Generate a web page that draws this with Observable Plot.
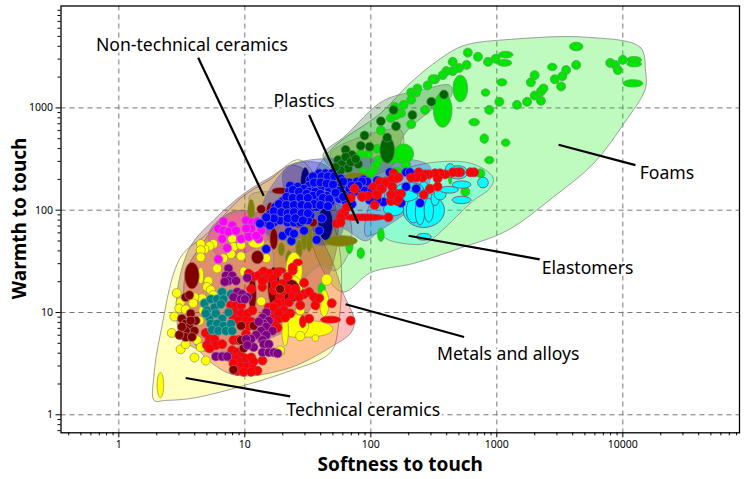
<!DOCTYPE html>
<html><head><meta charset="utf-8">
<style>html,body{margin:0;padding:0;background:#fff}svg{display:block}</style>
<script src="https://cdn.jsdelivr.net/npm/d3@7"></script>
<script src="https://cdn.jsdelivr.net/npm/@observablehq/plot@0.6"></script>
</head><body><div id="chart"></div>
<script>
// All values are log10(softness), log10(warmth).
const majorTicks=[1,10,100,1000,10000];
const minorX=[.4,.5,.6,.7,.8,.9,2,3,4,5,6,7,8,9,20,30,40,50,60,70,80,90,200,300,400,500,600,700,800,900,2000,3000,4000,5000,6000,7000,8000,9000,20000,30000,40000,50000,60000,70000,80000];
const majorY=[1,10,100,1000];
const minorY=[.7,.8,.9,2,3,4,5,6,7,8,9,20,30,40,50,60,70,80,90,200,300,400,500,600,700,800,900,2000,3000,4000,5000,6000,7000,8000,9000];

const foamEnv=[[3.72,3.69],[4.14,3.59],[4.18,3.36],[4.18,3.19],[4.01,2.85],[3.77,2.46],[3.45,2.13],[3.08,1.80],[2.71,1.63],[2.34,1.48],[2.00,1.39],[1.78,1.20],[1.62,1.41],[1.48,2.09],[1.66,2.56],[2.08,2.95],[2.31,3.24],[2.55,3.48],[2.74,3.61],[3.11,3.67]];
const techEnv=[[.28,.14],[.28,.40],[.33,.79],[.49,1.54],[.70,1.77],[.97,2.12],[1.20,2.30],[1.44,2.49],[1.74,1.70],[1.74,.85],[1.68,.61],[1.36,.43],[.62,.17],[.37,.14]];
const metalEnv=[[1.78,1.19],[1.87,.92],[1.84,.80],[1.68,.66],[1.36,.46],[.99,.38],[.83,.43],[.62,.66],[.53,.99],[.53,1.38],[.65,1.65],[.89,1.98],[1.20,1.95],[1.52,1.85],[1.68,1.54]];
const nonTechEnv=[[.47,1.26],[.46,.92],[.51,.73],[.73,.61],[1.05,.68],[1.44,.92],[1.68,1.41],[1.74,1.85],[1.68,2.14],[1.39,2.44],[1.20,2.32],[.99,2.16],[.75,1.90],[.57,1.65]];
const magentaEnv=[[.77,1.88],[.93,1.98],[1.14,1.95],[1.20,1.75],[1.05,1.61],[.87,1.53],[.74,1.61],[.71,1.75]];
const plasticEnv=[[1.31,2.39],[1.40,2.46],[1.76,2.51],[2.46,2.44],[2.47,2.29],[2.35,2.05],[2.05,1.78],[1.96,1.70],[1.72,1.85],[1.36,1.70],[1.16,1.78],[1.14,2.05]];
const elastEnv=[[2.79,2.46],[2.97,2.32],[2.95,2.22],[2.81,2.09],[2.50,1.73],[2.42,1.67],[2.16,1.70],[2.05,1.77],[1.96,1.75],[2.00,2.09],[2.12,2.29],[2.37,2.44]];
const darkGreenEnv=[[1.62,2.53],[1.80,2.73],[2.10,3.07],[2.39,3.17],[2.63,3.22],[2.64,3.12],[2.47,2.97],[2.24,2.68],[2.28,2.39],[1.84,2.31]];
const oliveEnvA=[[1.68,2.56],[2.10,2.78],[2.24,2.78],[2.25,2.58],[2.12,2.39],[1.80,2.31],[1.72,2.44]];
const oliveEnvB=[[1.44,2.14],[1.80,2.0],[1.84,1.65],[1.72,1.41],[1.60,1.46],[1.36,1.21],[1.24,1.17],[1.22,1.61],[1.04,2.14]];
const navyEnv=[[1.31,2.39],[1.40,2.46],[1.64,2.44],[1.76,2.19],[1.76,1.75],[1.60,1.65],[1.44,1.80],[1.32,2.14]];

const greenDots=[[2.77,3.54],[2.85,3.50],[2.93,3.45],[2.99,3.48],[2.65,3.45],[2.76,3.42],[2.70,3.39],[2.65,3.36],[2.60,3.36],[2.57,3.32],[2.51,3.28],[2.49,3.28],[2.45,3.22],[2.37,3.19],[2.36,3.15],[2.32,3.15],[2.32,3.08],[2.26,3.03],[2.24,2.95],[2.19,3.01],[2.16,2.90],[2.20,2.93],[2.32,2.84],[2.43,2.98],[2.08,2.78],[2.05,2.60],[1.98,2.55],[1.92,2.55],[2.06,2.49],[2.04,2.44],[2.02,2.39],[1.95,2.37],[2.00,2.36],[2.28,2.44],[3.02,3.06],[2.94,2.98],[3.16,3.03],[3.24,3.06],[3.30,3.12],[3.35,3.07],[3.35,3.16],[3.37,3.19],[3.27,3.25],[3.30,3.32],[3.46,3.28],[3.52,3.31],[3.51,3.21],[3.55,3.37],[3.63,3.42],[3.90,3.44],[3.94,3.42],[3.96,3.37],[4.00,3.47],[2.75,2.18],[2.87,2.36],[1.81,2.44],[1.94,2.37]];
const greenOvals=[[2.91,3.15,.034,.036],[3.04,3.25,.04,.036],[3.44,3.40,.037,.036],[3.07,3.52,.058,.033],[3.06,3.44,.058,.033],[3.63,3.60,.053,.042],[4.09,3.47,.058,.033],[4.09,3.43,.058,.029],[4.08,3.24,.079,.036],[2.71,3.19,.058,.13],[2.57,2.98,.074,.169],[2.26,2.55,.079,.098],[2.17,2.49,.053,.033],[2.08,1.76,.026,.065],[1.83,1.66,.029,.085],[1.92,1.58,.029,.052],[2.82,2.86,.042,.036],[2.90,2.70,.034,.046],[3.07,2.66,.034,.036],[2.94,2.49,.037,.036],[2.31,1.96,.026,.049],[2.20,2.38,.053,.039],[2.63,2.30,.013,.046],[1.37,1.70,.042,.046],[1.64,1.92,.04,.033],[1.61,1.23,.029,.059]];
const darkGreenDots=[[2.58,3.13],[2.48,3.06],[2.33,2.93],[2.20,2.82],[2.08,2.87],[2.18,2.98],[1.95,2.73],[2.13,2.71],[1.80,2.59],[1.99,2.62],[1.85,2.54],[1.92,2.63],[1.74,2.49],[1.77,2.45],[1.82,2.41],[1.90,2.45],[1.76,2.39],[1.80,2.52],[1.84,2.47],[1.72,2.42],[1.88,2.50]];
const darkGreenOvals=[[2.13,2.59,.058,.13]];
const oliveOvals=[[1.05,2.00,.026,.104],[1.51,1.74,.029,.147],[1.47,1.74,.024,.13],[1.43,1.62,.026,.091],[1.29,1.62,.026,.065],[1.35,1.53,.026,.078],[1.76,1.70,.132,.052],[1.88,2.33,.093,.039]];
const navyOvals=[[1.48,2.27,.037,.147],[1.64,1.87,.058,.163]];
const cyanOvals=[[2.42,2.00,.164,.169],[2.18,2.01,.079,.065],[2.34,2.00,.058,.124],[2.39,1.98,.037,.124],[2.46,2.00,.037,.117],[2.51,2.11,.032,.065],[2.55,2.16,.048,.059],[2.42,2.24,.032,.039],[2.31,2.21,.106,.059],[2.69,2.37,.079,.065],[2.42,1.74,.058,.033],[2.63,2.39,.04,.065],[2.24,2.14,.132,.059],[2.89,2.27,.042,.052],[2.72,2.25,.074,.036],[2.72,2.10,.074,.036],[2.62,2.20,.074,.033]];
const yellowDots=[[.75,1.67],[.72,1.65],[.68,1.62],[.65,1.67],[.65,1.61],[.65,1.54],[.90,1.72],[.91,1.64],[.97,1.66],[.89,1.57],[.83,1.53],[.97,1.55],[1.03,1.73],[1.17,1.53],[.78,1.43],[.71,1.31],[.70,1.25],[.66,1.14],[.46,1.19],[.49,1.10],[.53,1.15],[.60,1.15],[.59,1.09],[.48,1.04],[.53,1.03],[.44,.96],[.42,.80],[.49,.64],[.53,.69],[.62,.73],[.65,.66],[.60,.56],[.69,.53],[.64,.92],[.67,1.02],[.73,1.22],[.75,1.17],[1.05,1.13],[1.13,1.11],[1.15,1.25],[1.28,.61],[1.31,.95],[1.36,1.38],[1.57,1.07],[1.44,1.02],[1.44,1.07],[1.31,.96],[1.28,.63],[1.59,1.15]];
const yellowOvals=[[.65,1.36,.024,.081],[.99,1.40,.029,.046],[.33,.29,.026,.124],[1.09,1.69,.066,.06],[1.50,.84,.198,.081],[1.40,.87,.106,.114],[1.44,.77,.037,.046],[1.56,.75,.026,.033],[1.32,.82,.026,.147],[1.39,1.41,.066,.179],[1.38,1.23,.079,.13],[1.63,1.09,.037,.13],[1.65,1.32,.042,.055]];
const maroonDots=[[1.13,2.01],[1.31,2.03],[1.42,1.87],[1.54,1.88],[.53,1.15],[.56,1.17],[.50,.94],[.53,.89],[.56,.86],[.60,.82],[.53,.82],[.49,.78],[.53,.76],[.48,.78],[.57,.99],[.61,.92],[.57,.92],[.50,.86],[.58,.76],[.97,.87],[1.07,.87],[.91,.44],[.99,.65],[1.28,1.23],[.97,.73]];
const maroonOvals=[[.58,1.36,.058,.13],[1.23,1.25,.048,.195],[1.06,1.18,.032,.163],[1.20,1.98,.032,.098],[1.10,1.54,.048,.065],[1.23,1.72,.032,.104],[1.28,2.19,.066,.033],[1.36,1.21,.079,.114]];
const tealDots=[[.82,1.20],[.89,1.18],[.68,1.09],[.73,1.13],[.78,1.13],[.83,1.13],[.70,1.02],[.76,1.05],[.81,1.08],[.87,1.00],[.72,.95],[.77,.99],[.82,.94],[.73,.89],[.78,.89],[.83,.87],[.89,.89],[.74,.83],[.79,.82],[.85,.82],[.90,.82],[.69,.99]];
const purpleDots=[[.87,1.43],[.85,1.36],[.90,1.36],[.87,1.31],[.84,1.30],[.93,1.31],[1.02,1.34],[.94,1.20],[.98,1.18],[1.02,1.15],[.91,1.15],[.97,1.13],[1.00,1.13],[1.17,1.00],[1.14,.95],[1.19,.92],[1.15,.89],[1.17,.86],[1.22,.82],[1.13,.82],[1.09,.78],[1.17,.78],[1.14,.73],[1.05,.74],[1.07,.66],[1.15,.69],[1.19,.69],[1.14,.61],[1.19,.61],[1.23,.61],[1.26,.60],[.77,.57],[.82,.57],[.86,.57],[1.01,.74],[1.11,.91],[1.02,.68]];
const magentaDots=[[.83,1.89],[.90,1.85],[.79,1.82],[.83,1.80],[.87,1.79],[.93,1.80],[.82,1.72],[.97,1.72],[.86,1.63],[.79,1.52],[1.01,1.90],[1.06,1.88],[1.10,1.89],[1.05,1.82],[1.01,1.82],[1.13,1.80],[1.03,1.74],[1.11,1.72],[1.09,1.75]];
const blueDots=[[1.59,2.36],[1.64,2.36],[1.69,2.36],[1.57,2.31],[1.52,2.30],[1.63,2.29],[1.68,2.28],[1.73,2.29],[1.51,2.24],[1.56,2.24],[1.61,2.23],[1.67,2.21],[1.72,2.21],[1.77,2.24],[1.83,2.27],[1.89,2.28],[1.94,2.30],[1.36,2.24],[1.42,2.23],[1.47,2.21],[1.35,2.18],[1.40,2.16],[1.46,2.14],[1.51,2.18],[1.56,2.18],[1.65,2.14],[1.71,2.14],[1.76,2.16],[1.81,2.16],[1.87,2.18],[1.30,2.09],[1.35,2.10],[1.42,2.09],[1.47,2.08],[1.52,2.09],[1.57,2.11],[1.63,2.09],[1.68,2.08],[1.75,2.11],[1.80,2.09],[1.24,2.03],[1.31,2.01],[1.36,2.01],[1.42,2.01],[1.47,2.01],[1.52,2.01],[1.57,2.03],[1.20,1.96],[1.26,1.95],[1.31,1.95],[1.36,1.93],[1.42,1.95],[1.47,1.93],[1.52,1.95],[1.18,1.87],[1.23,1.88],[1.28,1.90],[1.34,1.88],[1.39,1.88],[1.44,1.88],[1.50,1.90],[1.61,1.92],[1.20,1.85],[1.30,1.75],[1.35,1.79],[1.47,1.80],[1.57,1.71],[1.59,1.80],[1.17,1.62],[1.37,1.70],[1.39,1.77],[1.85,2.06],[1.83,2.21],[1.92,2.21],[1.96,2.26],[2.15,2.37],[2.28,2.37],[2.31,2.37],[1.97,2.28],[2.05,2.29],[1.93,2.28],[2.28,2.23],[2.36,2.21],[2.24,2.07],[2.39,2.07],[2.10,2.08],[2.05,2.10],[1.99,2.10],[1.95,2.19],[2.01,2.19],
[1.54,2.33],[1.61,2.33],[1.66,2.33],[1.71,2.33],[1.76,2.31],[1.55,2.27],[1.60,2.27],[1.65,2.26],[1.70,2.25],[1.75,2.19],[1.78,2.28],[1.85,2.24],[1.90,2.24],[1.38,2.20],[1.43,2.18],[1.49,2.16],[1.54,2.14],[1.60,2.16],[1.62,2.12],[1.67,2.11],[1.72,2.17],[1.78,2.13],[1.84,2.14],[1.33,2.13],[1.38,2.12],[1.44,2.12],[1.50,2.12],[1.55,2.06],[1.60,2.05],[1.66,2.04],[1.27,2.06],[1.33,2.05],[1.39,2.05],[1.45,2.05],[1.50,2.04],[1.23,1.99],[1.29,1.98],[1.34,1.97],[1.39,1.98],[1.45,1.97],[1.50,1.97],[1.23,1.92],[1.34,1.92],[1.40,1.92],[1.46,1.90],[1.17,1.93],[1.12,1.87]];
const redDots=[[2.82,2.37],[2.79,2.37],[2.71,2.37],[2.69,2.37],[2.65,2.37],[2.59,2.35],[2.55,2.36],[2.53,2.31],[2.51,2.36],[2.46,2.35],[2.43,2.35],[2.38,2.37],[2.41,2.32],[2.36,2.32],[2.32,2.32],[2.53,2.23],[2.47,2.21],[2.42,2.15],[2.18,2.36],[2.17,2.30],[2.20,2.31],[2.12,2.28],[2.08,2.22],[2.02,2.23],[2.09,2.21],[2.04,2.16],[1.97,2.14],[1.93,2.14],[2.17,2.16],[2.20,2.16],[2.24,2.16],[2.16,2.09],[2.21,2.09],[2.03,2.05],[2.14,1.93],[2.07,2.28],[2.12,2.27],[2.17,2.31],[2.22,2.32],[2.08,2.21],[2.17,2.23],[2.22,2.15],[2.16,2.15],[2.05,2.15],[1.98,2.14],[1.87,2.21],[2.22,2.11],[1.76,1.92],[1.77,1.97],[1.87,2.21],[1.93,2.13],[1.84,2.12],[1.79,1.98],[1.76,1.93],[1.73,1.87],[1.76,1.88],[1.81,2.03]];
const redOvals=[[1.94,1.93,.185,.033]];
const metalRedDots=[[.89,1.07],[.93,1.07],[.97,1.07],[.91,1.00],[.97,.99],[1.02,.99],[1.06,1.02],[.91,.94],[.95,.92],[1.01,.92],[1.05,.91],[.69,.80],[.72,.74],[.76,.74],[.70,.68],[.77,.68],[.82,.69],[.72,.65],[.91,.73],[.95,.73],[.90,.63],[.94,.61],[.97,.58],[.89,.56],[.93,.55],[.97,.52],[1.01,.55],[1.05,.56],[1.07,.52],[.91,.50],[.97,.47],[1.02,.47],[1.06,.45],[1.10,.43],[.94,.43],[.99,.42],[1.05,.42],[1.14,.53],[1.01,.79],[1.03,.87],[1.03,1.38],[1.07,1.35],[1.14,1.39],[1.11,1.36],[1.17,1.38],[1.05,1.23],[1.14,1.25],[1.19,1.36],[1.30,1.28],[1.34,1.35],[1.38,1.41],[1.23,1.22],[1.28,1.15],[1.19,1.05],[1.24,1.07],[1.30,1.09],[1.35,1.10],[1.20,1.00],[1.26,1.00],[1.31,1.02],[1.36,.99],[1.22,.94],[1.27,.94],[1.32,.95],[1.23,.89],
[1.38,1.44],[1.15,1.40],[1.20,1.38],[1.26,1.39],[1.16,1.33],[1.22,1.33],[1.14,1.31],[1.24,1.27],[1.30,1.21],[1.35,1.23],[1.38,1.17],[1.40,1.23],[1.47,1.29],[1.47,1.18],[1.51,1.20],[1.43,1.15],[1.55,1.15],[1.26,1.09],[1.23,1.05],[1.27,1.00],[1.44,1.07],[1.56,1.07],[1.59,1.14],[1.69,1.09],[1.51,.94],[1.84,.92],[1.26,.85]];
const metalRedOvals=[[1.42,1.49,.037,.033],[1.28,1.41,.045,.029],[1.32,1.09,.04,.026],[1.46,.91,.026,.059],[1.68,.93,.079,.033]];

const labels=["Non-technical ceramics","Plastics","Foams","Elastomers","Metals and alloys","Technical ceramics"];
const labelLogX=[.58,1.47,4.35,3.72,3.09,1.94];
const labelLogY=[3.61,3.06,2.36,1.43,.59,.04];
const leaderStart=[[.63,3.49],[1.51,2.93],[3.49,2.64],[2.30,1.75],[1.80,1.08],[.53,.36]];
const leaderEnd=[[1.15,2.14],[1.90,1.87],[4.10,2.44],[3.34,1.52],[2.74,.76],[1.36,.18]];

const envelope=(pts,color,op=.25)=>Plot.line(pts,{x:d=>10**d[0],y:d=>10**d[1],curve:"catmull-rom-closed",fill:color,fillOpacity:op,stroke:"#888",strokeWidth:.8});
const outline=ovals=>ovals.flatMap((o,id)=>d3.range(32).map(i=>{const t=i/32*2*Math.PI;return {id,x:10**(o[0]+o[2]*Math.cos(t)),y:10**(o[1]+o[3]*Math.sin(t))};}));
const bubbles=(dots,ovals,fill,edge)=>[
  Plot.line(outline(ovals),{x:"x",y:"y",z:"id",curve:"linear-closed",fill,stroke:edge,strokeWidth:.8}),
  Plot.dot(dots,{x:d=>10**d[0],y:d=>10**d[1],r:4.5,fill,stroke:edge,strokeWidth:.8})
];

const plot=Plot.plot({
  width:744,height:479,marginLeft:60.5,marginRight:5,marginTop:5.5,marginBottom:46.7,
  style:{background:"#fff",fontFamily:"'Noto Sans',sans-serif"},
  x:{type:"log",domain:[10**-.459,10**4.926],label:null},
  y:{type:"log",domain:[10**-.176,10**3.996],label:null},
  marks:[
    Plot.ruleX(majorTicks,{stroke:"#777",strokeDasharray:"5,4"}),
    Plot.ruleY(majorY,{stroke:"#777",strokeDasharray:"5,4"}),
    envelope(foamEnv,"#00f000"),
    envelope(techEnv,"#ffff00"),
    envelope(metalEnv,"#ff0000"),
    envelope(nonTechEnv,"#800000"),
    envelope(magentaEnv,"#ff00ff"),
    envelope(oliveEnvB,"#808000",.2),
    envelope(darkGreenEnv,"#006400"),
    envelope(oliveEnvA,"#808000"),
    envelope(navyEnv,"#000080"),
    envelope(elastEnv,"#00ffff"),
    envelope(plasticEnv,"#0000ff"),
    bubbles(greenDots,greenOvals,"#00e600","#55a555"),
    bubbles(darkGreenDots,darkGreenOvals,"#006400","#558855"),
    bubbles([],oliveOvals,"#808000","#8a8a5a"),
    bubbles([],navyOvals,"#000080","#55558a"),
    bubbles([],cyanOvals,"#00ffff","#8b3a5a"),
    bubbles(yellowDots,yellowOvals,"#ffff00","#9a9a55"),
    bubbles([],maroonOvals,"#800000","#b07070"),
    bubbles(metalRedDots,metalRedOvals,"#ff0000","#c03050"),
    bubbles(maroonDots,[],"#800000","#b07070"),
    bubbles(tealDots,[],"#008080","#60a8a8"),
    bubbles(purpleDots,[],"#800080","#a868a8"),
    bubbles(magentaDots,[],"#ff00ff","#c070c0"),
    bubbles(blueDots,[],"#0000ff","#7070c0"),
    bubbles(redDots,redOvals,"#ff0000","#c03050"),
    Plot.frame({stroke:"#000",strokeWidth:1.3}),
    Plot.axisX({anchor:"bottom",ticks:majorTicks,tickSize:5,tickPadding:3,tickFormat:d=>String(d),fontSize:10.5,label:null,stroke:"#000"}),
    Plot.axisX({anchor:"bottom",ticks:minorX,tickSize:3,tickFormat:()=>"",label:null,stroke:"#000"}),
    Plot.axisY({anchor:"left",ticks:majorY,tickSize:5,tickPadding:3,tickFormat:d=>String(d),fontSize:10.5,label:null,stroke:"#000"}),
    Plot.axisY({anchor:"left",ticks:minorY,tickSize:3,tickFormat:()=>"",label:null,stroke:"#000"}),
    Plot.link(leaderStart,{x1:d=>10**d[0],y1:d=>10**d[1],x2:(d,i)=>10**leaderEnd[i][0],y2:(d,i)=>10**leaderEnd[i][1],stroke:"#000",strokeWidth:2.2}),
    Plot.text(labels,{x:(d,i)=>10**labelLogX[i],y:(d,i)=>10**labelLogY[i],text:d=>d,fontSize:17.6,fill:"#000",stroke:"#fff",strokeWidth:5,paintOrder:"stroke"}),
    Plot.text(["Softness to touch"],{frameAnchor:"bottom",dy:38,fontSize:19,fontWeight:700,fill:"#000"}),
    Plot.text(["Warmth to touch"],{frameAnchor:"left",dx:-41.5,dy:-1,textAnchor:"middle",rotate:-90,fontSize:19,fontWeight:700,fill:"#000"})
  ]
});
document.getElementById("chart").append(plot);
</script></body></html>
